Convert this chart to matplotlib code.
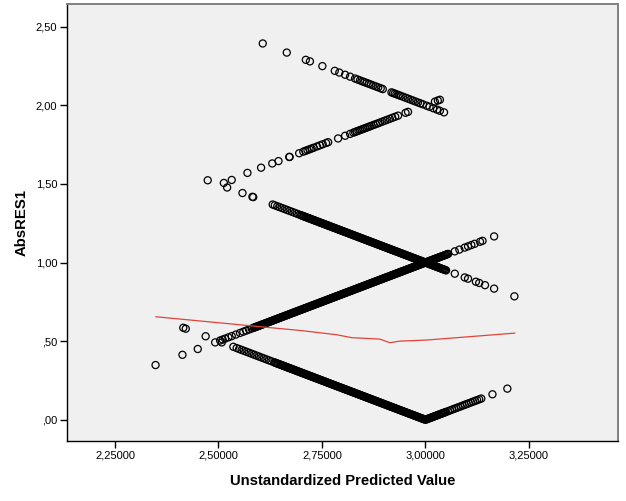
import numpy as np
import matplotlib
matplotlib.use("Agg")
import matplotlib.pyplot as plt
from matplotlib.ticker import FuncFormatter

# ---------------- data ----------------
# Predicted values (in ten-thousandths) for each observed score group;
# AbsRES1 = |observed - predicted|
obs3_pred = """24150 24210 24690 25080 25360 25440 25500 25560 25620 25680 25740 25800 25860 25920 25980 26040 26100 26160 26220 26280
26350 26375
26400 26425 26450 26475 26500 26525 26550 26575
26600 26625 26650 26675 26700 26725 26750 26775
26800 26825 26850 26875 26900 26925 26950 26975
27000 27025 27050 27075 27100 27125 27150 27175
27200 27225 27250 27275 27300 27325 27350 27375
27400 27425 27450 27475 27500 27525 27550 27575
27600 27625 27650 27675 27700 27725 27750 27775
27800 27825 27850 27875 27900 27925 27950 27975
28000 28025 28050 28075 28100 28125 28150 28175
28200 28225 28250 28275 28300 28325 28350 28375
28400 28425 28450 28475 28500 28525 28550 28575
28600 28625 28650 28675 28700 28725 28750 28775
28800 28825 28850 28875 28900 28925 28950 28975
29000 29025 29050 29075 29100 29125 29150 29175
29200 29225 29250 29275 29300 29325 29350 29375
29400 29425 29450 29475 29500 29525 29550 29575
29600 29625 29650 29675 29700 29725 29750 29775
29800 29825 29850 29875 29900 29925 29950 29975
30000 30025 30050 30075 30100 30125 30150 30175
30200 30225 30250 30275 30300 30325 30350 30375
30400 30425 30450 30475 30500
30550 30600 30650 30700 30750 30800 30850 30900 30950 31000
31050 31100 31150 31200 31250 31300 31350 31620 31980"""

obs2_pred = """23480 24130 24500 24920 25040 25100 25160 25240 25320 25420 25520 25600 25670 25740 25800
25850 25875 25900 25925 25950 25975
26000 26025 26050 26075 26100 26125 26150 26175
26200 26225 26250 26275 26300 26325 26350 26375
26400 26425 26450 26475 26500 26525 26550 26575
26600 26625 26650 26675 26700 26725 26750 26775
26800 26825 26850 26875 26900 26925 26950 26975
27000 27025 27050 27075 27100 27125 27150 27175
27200 27225 27250 27275 27300 27325 27350 27375
27400 27425 27450 27475 27500 27525 27550 27575
27600 27625 27650 27675 27700 27725 27750 27775
27800 27825 27850 27875 27900 27925 27950 27975
28000 28025 28050 28075 28100 28125 28150 28175
28200 28225 28250 28275 28300 28325 28350 28375
28400 28425 28450 28475 28500 28525 28550 28575
28600 28625 28650 28675 28700 28725 28750 28775
28800 28825 28850 28875 28900 28925 28950 28975
29000 29025 29050 29075 29100 29125 29150 29175
29200 29225 29250 29275 29300 29325 29350 29375
29400 29425 29450 29475 29500 29525 29550 29575
29600 29625 29650 29675 29700 29725 29750 29775
29800 29825 29850 29875 29900 29925 29950 29975
30000 30025 30050 30075 30100 30125 30150 30175
30200 30225 30250 30275 30300 30325 30350 30375
30400 30425 30450 30475 30500 30525 30550
30710 30820 30950 31030 31110 31190 31320 31380 31660"""

obs4_pred = """25580 25820 25840 26310 26360 26420 26480 26540 26600 26660 26720 26780 26840 26900 26960
27000 27025 27050 27075 27100 27125 27150 27175
27200 27225 27250 27275 27300 27325 27350 27375
27400 27425 27450 27475 27500 27525 27550 27575
27600 27625 27650 27675 27700 27725 27750 27775
27800 27825 27850 27875 27900 27925 27950 27975
28000 28025 28050 28075 28100 28125 28150 28175
28200 28225 28250 28275 28300 28325 28350 28375
28400 28425 28450 28475 28500 28525 28550 28575
28600 28625 28650 28675 28700 28725 28750 28775
28800 28825 28850 28875 28900 28925 28950 28975
29000 29025 29050 29075 29100 29125 29150 29175
29200 29225 29250 29275 29300 29325 29350 29375
29400 29425 29450 29475 29500 29525 29550 29575
29600 29625 29650 29675 29700 29725 29750 29775
29800 29825 29850 29875 29900 29925 29950 29975
30000 30025 30050 30075 30100 30125 30150 30175
30200 30225 30250 30275 30300 30325 30350 30375
30400 30425 30450 30475 30500
30710 30950 31030 31220 31300 31440 31660 32150"""

obs1_pred = """25700 26030 26300 26450 26710 26720 26950 27050 27100 27150 27200 27250 27300 27380 27450 27520
27600 27650 27890 28060 28180 28260 28300 28340 28380 28420 28460 28500 28540 28580 28620 28660
28700 28750 28800 28850 28900 28960 29020 29080 29140 29200 29270 29340 29520 29580 30230 30300 30350"""

obs5_pred = """26070 26650 27110 27210 27510 27810 27920 28060 28180 28300 28360 28420 28480 28530 28580 28630
28680 28740 28800 28860 28920 28970 29180 29220 29260 29300 29350 29400 29460 29520 29580 29640
29700 29760 29820 29880 29940 30030 30100 30190 30280 30350 30450"""

# a few points off the integer-score lines (pred, AbsRES1)
extra_x = [2.474, 2.513, 2.521, 2.532]
extra_y = [1.523, 1.506, 1.477, 1.525]

groups = {1: obs1_pred, 2: obs2_pred, 3: obs3_pred, 4: obs4_pred, 5: obs5_pred}

# loess fit line
fit_x = [2.349, 2.600, 2.697, 2.785, 2.822, 2.890, 2.914, 2.938, 3.003, 3.216]
fit_y = [0.655, 0.592, 0.568, 0.541, 0.522, 0.513, 0.490, 0.500, 0.507, 0.551]

x_ticks = [2.25, 2.50, 2.75, 3.00, 3.25]
y_ticks = [0.0, 0.5, 1.0, 1.5, 2.0, 2.5]

# ---------------- build points ----------------
xs, ys = [], []
for obs, s in groups.items():
    p = np.array([float(v) for v in s.split()]) / 10000.0
    xs.append(p)
    ys.append(np.abs(obs - p))
xs.append(np.array(extra_x))
ys.append(np.array(extra_y))
X = np.concatenate(xs)
Y = np.concatenate(ys)

# ---------------- plot ----------------
plt.rcParams['font.family'] = ['Liberation Sans', 'DejaVu Sans']
fig = plt.figure(figsize=(6.26, 5.01), dpi=100)
ax = fig.add_axes([0.107, 0.1204, 0.880, 0.871])
ax.set_facecolor('#f0f0f0')

ax.scatter(X, Y, s=26, facecolors='none', edgecolors='black', linewidths=0.9, zorder=2)
ax.plot(fit_x, fit_y, color='#e0443c', lw=0.9, zorder=3)

ax.set_xlim(2.134, 3.465)
ax.set_ylim(-0.133, 2.642)
ax.set_xticks(x_ticks)
ax.set_yticks(y_ticks)

def fmt_x(v, pos):
    return f"{v:.5f}".replace('.', ',')

def fmt_y(v, pos):
    s = f"{v:.2f}".replace('.', ',')
    if s.startswith('0,'):
        s = s[1:]
    return s

ax.xaxis.set_major_formatter(FuncFormatter(fmt_x))
ax.yaxis.set_major_formatter(FuncFormatter(fmt_y))
ax.tick_params(axis='both', direction='out', length=5, width=1, colors='black',
               labelsize=8, pad=2)

for side in ['left', 'bottom']:
    ax.spines[side].set_color('black')
    ax.spines[side].set_linewidth(1.0)
for side in ['top', 'right']:
    ax.spines[side].set_color('#808080')
    ax.spines[side].set_linewidth(1.4)

ax.set_xlabel('Unstandardized Predicted Value', fontsize=10.7, fontweight='bold', labelpad=10)
ax.set_ylabel('AbsRES1', fontsize=10.7, fontweight='bold', labelpad=5)

fig.savefig('out.png', dpi=100)
